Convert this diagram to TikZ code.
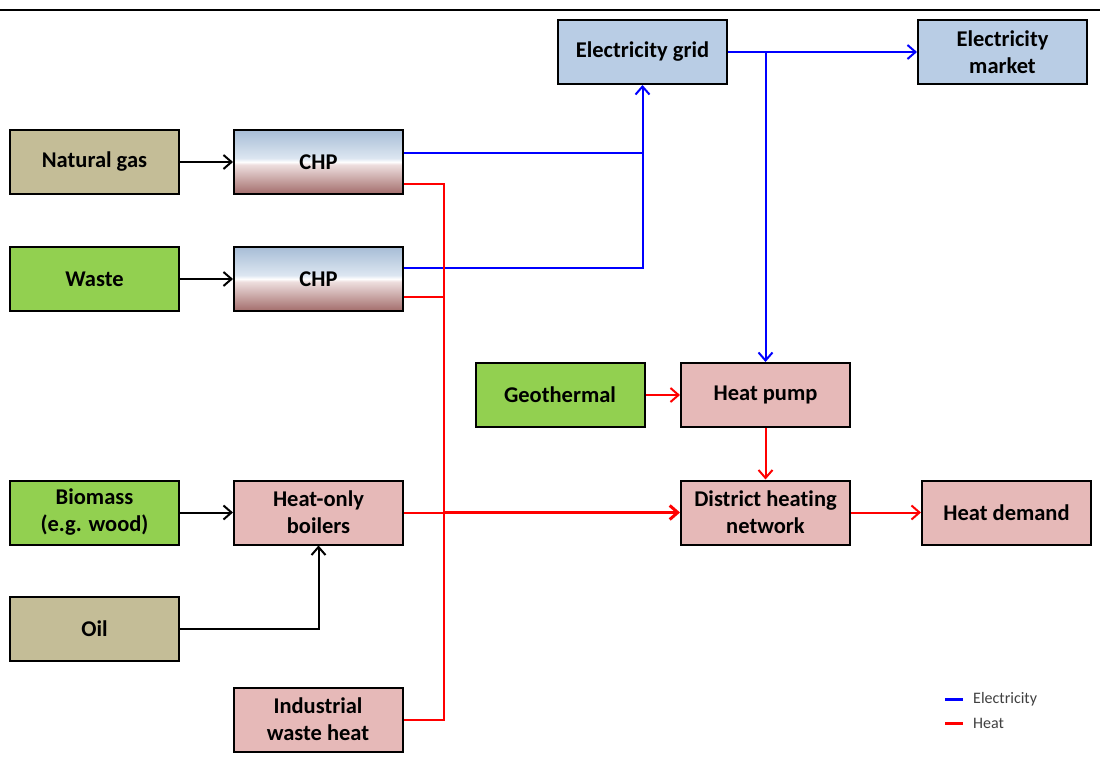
\documentclass[tikz,border=0pt]{standalone}
\usepackage{fontspec}
\setmainfont{Carlito}[Ligatures=NoCommon]
\usetikzlibrary{arrows.meta}

\definecolor{tanfill}{HTML}{C4BD97}
\definecolor{greenfill}{HTML}{92D050}
\definecolor{pinkfill}{HTML}{E6B9B8}
\definecolor{bluefill}{HTML}{B9CDE5}
\definecolor{chptop}{HTML}{A7BDD6}
\definecolor{chpupper}{HTML}{DCE6F1}
\definecolor{chplower}{HTML}{EEDFDF}
\definecolor{chpbot}{HTML}{A36D6B}
\definecolor{legendtext}{HTML}{404040}

% CHP units: blue fading to white at mid-height, then dark red below
\pgfdeclareverticalshading{chpshade}{100bp}{%
  color(0bp)=(chpbot); color(25bp)=(chpbot); color(48bp)=(chplower);
  color(50bp)=(white); color(53bp)=(chpupper); color(75bp)=(chptop);
  color(100bp)=(chptop)}

\tikzset{
  x=1pt, y=-1pt,
  >={Straight Barb[length=8pt,width=14pt]},
  box/.style={draw=black, line width=2pt, minimum width=169pt, minimum height=64pt,
    align=center, inner sep=2pt,
    font=\fontsize{22.5}{27}\selectfont\bfseries},
  fuel/.style={box, fill=tanfill},
  renew/.style={box, fill=greenfill},
  heatbox/.style={box, fill=pinkfill},
  elbox/.style={box, fill=bluefill},
  chpbox/.style={box, shading=chpshade},
  feed/.style={->, draw=black, line width=2pt},
  elec/.style={draw=blue, line width=2pt},
  heat/.style={draw=red, line width=2pt},
  legtext/.style={anchor=west, inner sep=0pt, text=legendtext,
    font=\fontsize{16}{18}\selectfont}
}

\begin{document}
\begin{tikzpicture}
\useasboundingbox (0,0) rectangle (1112,778);

% rule across the top
\draw[line width=2pt] (0,10) -- (1100,10);

% sources
\node[fuel]   (ng)    at (94.5,162)   {Natural gas};
\node[renew]  (waste) at (94.5,279)   {Waste};
\node[renew]  (bio)   at (94.5,512.5) {Biomass\\(e.g. wood)};
\node[fuel]   (oil)   at (94.5,628.5) {Oil};
\node[heatbox] (ind)  at (318,719.5)  {Industrial\\waste heat};
\node[renew]  (geo)   at (560,395)    {Geothermal};

% conversion units
\node[chpbox]  (chp1) at (318.5,162)   {CHP};
\node[chpbox]  (chp2) at (318.5,279)   {CHP};
\node[heatbox] (boil) at (318.5,512.5) {Heat-only\\boilers};
\node[heatbox] (hp)   at (765.5,395)   {Heat pump};

% networks and demand
\node[elbox]   (grid)   at (642.5,52)    {Electricity grid};
\node[elbox]   (market) at (1002.5,52)   {Electricity\\market};
\node[heatbox] (dhn)    at (765.5,512.5) {District heating\\network};
\node[heatbox] (hd)     at (1006.5,512.5) {Heat demand};

% fuel inputs
\draw[feed] (ng) -- (chp1);
\draw[feed] (waste) -- (chp2);
\draw[feed] (bio) -- (boil);
\draw[feed] (oil.east) -| (boil.south);

% electricity flows
\coordinate (ejoin) at (642.5,153);
\coordinate (esplit) at (765.5,52);
\draw[elec,->] ([yshift=9pt]chp1.east) -| (grid.south);
\draw[elec] ([yshift=11pt]chp2.east) -| (ejoin);
\draw[elec,->] (grid.east) -- (market.west);
\draw[elec,->] (esplit) -- (hp.north);

% heat flows
\coordinate (hbtop) at (444,184);
\coordinate (hbbot) at (444,719.5);
\coordinate (hbmid) at (444,512.5);
\draw[heat] ([yshift=-22pt]chp1.east) -- (hbtop) -- (hbbot) -- (ind.east);
\draw[heat] ([yshift=-18pt]chp2.east) -| (hbtop);
\draw[heat] (boil.east) -- (hbmid);
\draw[heat, line width=3pt, ->] (hbmid) -- (dhn.west);
\draw[heat,->] (geo) -- (hp);
\draw[heat,->] (hp) -- (dhn);
\draw[heat,->] (dhn) -- (hd);

% legend
\coordinate (le1) at (945,699);
\coordinate (le2) at (963,699);
\coordinate (lh1) at (945,723);
\coordinate (lh2) at (963,723);
\draw[draw=blue, line width=3pt] (le1) -- (le2);
\draw[draw=red, line width=3pt] (lh1) -- (lh2);
\node[legtext] (lelec) at (973,699) {Electricity};
\node[legtext] (lheat) at (973,723) {Heat};
\end{tikzpicture}
\end{document}
